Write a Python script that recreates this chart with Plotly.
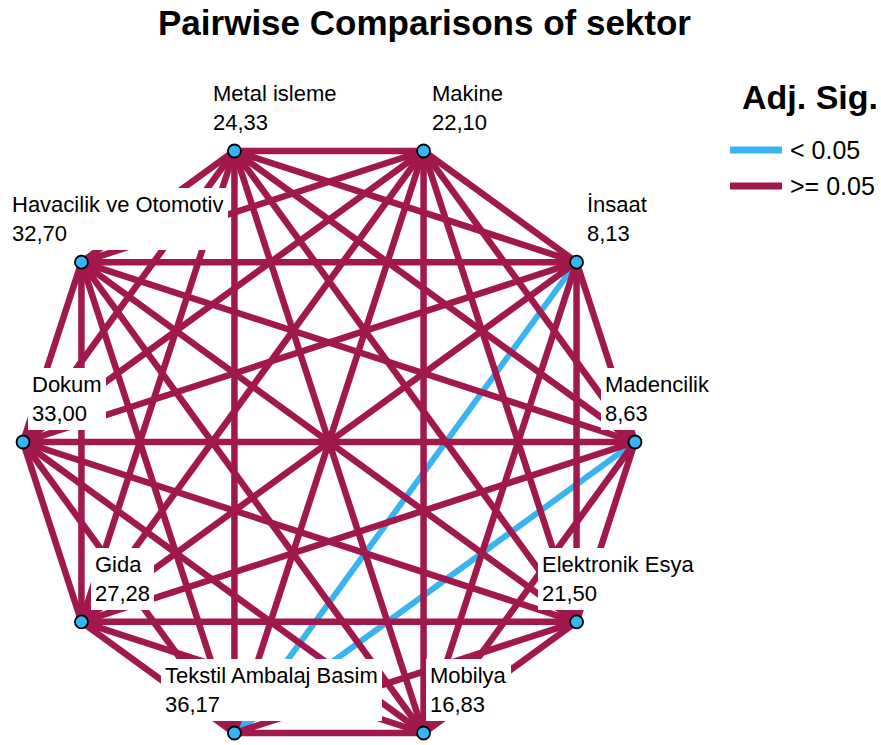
import math
import plotly.graph_objects as go

# ---- data ----
sectors = ["Metal isleme", "Makine", "İnsaat", "Madencilik", "Elektronik Esya",
           "Mobilya", "Tekstil Ambalaj Basim", "Gida", "Dokum", "Havacilik ve Otomotiv"]
mean_ranks = ["24,33", "22,10", "8,13", "8,63", "21,50",
              "16,83", "36,17", "27,28", "33,00", "32,70"]
# pairs with adjusted significance < 0.05 (all other pairs >= 0.05)
significant_pairs = [("İnsaat", "Tekstil Ambalaj Basim"),
                     ("Madencilik", "Tekstil Ambalaj Basim")]
legend_labels = ["< 0.05", ">= 0.05"]

# ---- layout / style (not data) ----
W, H = 881, 745
CX, CY, R = 329, 442, 306          # circle centre and radius in px
label_dx = [-21, 8, 10, -30, -35, 6, -69, 14, 9, -69]   # px offset of label text
RED = "#A0184C"
BLUE = "#38B4F2"
FONT = "Arial, Liberation Sans, sans-serif"

n = len(sectors)
ang = [math.radians(108 - 360 / n * i) for i in range(n)]
xs = [math.cos(a) for a in ang]
ys = [math.sin(a) for a in ang]
sig = {frozenset(p) for p in significant_pairs}

bx, by, rx, ry = [], [], [], []
for i in range(n):
    for j in range(i + 1, n):
        if frozenset((sectors[i], sectors[j])) in sig:
            bx += [xs[i], xs[j], None]
            by += [ys[i], ys[j], None]
        else:
            rx += [xs[i], xs[j], None]
            ry += [ys[i], ys[j], None]

fig = go.Figure()
fig.add_trace(go.Scatter(x=bx, y=by, mode="lines", line=dict(color=BLUE, width=6),
                         hoverinfo="skip", showlegend=False))
fig.add_trace(go.Scatter(x=rx, y=ry, mode="lines", line=dict(color=RED, width=6.5),
                         hoverinfo="skip", showlegend=False))
fig.add_trace(go.Scatter(x=xs, y=ys, mode="markers",
                         marker=dict(size=13, color="#36B4F4",
                                     line=dict(color="black", width=1.8)),
                         text=sectors, hoverinfo="text", showlegend=False))

for i in range(n):
    fig.add_annotation(x=xs[i], y=ys[i], xref="x", yref="y",
                       text=f"{sectors[i]}<br>{mean_ranks[i]}",
                       showarrow=False, xanchor="left", yanchor="bottom", align="left",
                       xshift=label_dx[i] - 4, yshift=12,
                       bgcolor="white", borderpad=4, borderwidth=0,
                       font=dict(family=FONT, size=22, color="black"))

# legend (custom)
fig.add_annotation(x=740 / W, y=1 - 97 / H, xref="paper", yref="paper",
                   text="Adj. Sig.", showarrow=False, xanchor="left", yanchor="middle",
                   font=dict(family=FONT, size=34, color="black", weight=700))
for lab, col, yy in zip(legend_labels, [BLUE, RED], [150, 186]):
    fig.add_shape(type="line", xref="paper", yref="paper",
                  x0=730 / W, x1=782 / W, y0=1 - yy / H, y1=1 - yy / H,
                  line=dict(color=col, width=7))
    fig.add_annotation(x=788 / W, y=1 - yy / H, xref="paper", yref="paper",
                       text=lab, showarrow=False, xanchor="left", yanchor="middle",
                       font=dict(family=FONT, size=25, color="black"))

fig.update_layout(
    width=W, height=H,
    margin=dict(l=0, r=0, t=0, b=0),
    paper_bgcolor="white", plot_bgcolor="white",
    title=dict(text="Pairwise Comparisons of sektor", x=424.5 / W, xanchor="center",
               y=1 - 23 / H, yanchor="middle", yref="container",
               font=dict(family=FONT, size=35, color="black", weight=700)),
    xaxis=dict(range=[-CX / R, (W - CX) / R], visible=False, fixedrange=True),
    yaxis=dict(range=[-(H - CY) / R, CY / R], visible=False, fixedrange=True),
    showlegend=False,
)

fig.write_html("out.html", config={"displayModeBar": False},
               post_script="document.body.style.margin='0';")
